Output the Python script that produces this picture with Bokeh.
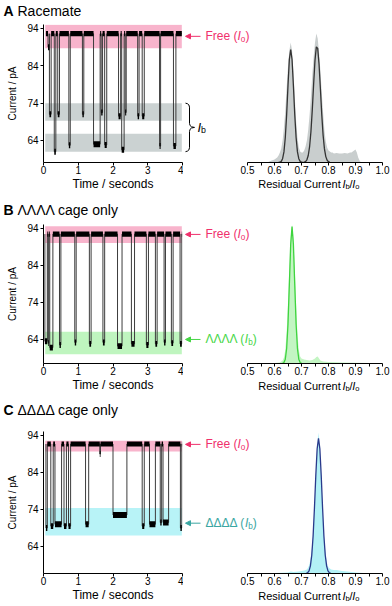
from bokeh.plotting import figure
from bokeh.models import (Range1d, Arrow, NormalHead, FixedTicker, NumeralTickFormatter)
from bokeh.layouts import column, row
from bokeh.embed import file_html
from bokeh.resources import INLINE
from bokeh.core.properties import value

FONT = "Liberation Sans"

# ---------------- data ----------------
time_ticks = [0, 1, 2, 3, 4]
current_ticks = [64, 74, 84, 94]
resid_ticks = [0.5, 0.6, 0.7, 0.8, 0.9, 1.0]
resid_minor = [0.55, 0.65, 0.75, 0.85, 0.95]

# Panel A: racemate trace (open level, events: start s, end s, level pA)
A_open = 92.6
A_span = [0.07, 3.98]
A_ev_start = [0.13, 0.17, 0.31, 0.41, 0.73, 1.12, 1.44, 1.66, 1.76, 2.16, 2.25, 2.35, 2.71, 2.84, 3.34, 3.74]
A_ev_end   = [0.17, 0.22, 0.355, 0.46, 0.77, 1.16, 1.63, 1.70, 1.82, 2.22, 2.32, 2.38, 2.75, 2.90, 3.37, 3.81]
A_ev_level = [89.0, 71.0, 61.0, 71.0, 62.7, 71.0, 63.0, 71.5, 62.8, 70.5, 61.5, 71.5, 70.5, 70.5, 62.5, 62.5]
A_band_lo = [88.7, 69.3, 61.0]
A_band_hi = [95.0, 74.0, 65.8]
A_band_col = ["#f8b4cc", "#cbd2d2", "#cbd2d2"]

# Panel B: ΛΛΛΛ cage only
B_open = 92.5
B_span = [0.04, 3.99]
B_ev_start = [0.04, 0.135, 0.18, 0.46, 0.90, 1.32, 1.71, 2.13, 2.53, 2.96, 3.22, 3.47, 3.68, 3.93]
B_ev_end   = [0.11, 0.155, 0.27, 0.50, 0.94, 1.37, 1.76, 2.26, 2.62, 3.02, 3.27, 3.51, 3.73, 3.98]
B_ev_level = [63.5, 63.0, 61.8, 62.5, 63.2, 62.8, 63.2, 62.2, 62.8, 62.5, 62.8, 63.2, 63.0, 62.8]
B_band_lo = [90.1, 60.0]
B_band_hi = [94.6, 66.1]
B_band_col = ["#f8b4cc", "#bff5bf"]

# Panel C: ΔΔΔΔ cage only
C_open = 91.7
C_span = [0.07, 3.99]
C_ev_start = [0.07, 0.21, 0.33, 0.59, 0.72, 1.21, 1.62, 2.00, 2.84, 3.05, 3.36, 3.44, 3.94]
C_ev_end   = [0.11, 0.28, 0.52, 0.66, 0.78, 1.30, 1.64, 2.40, 2.90, 3.22, 3.40, 3.60, 3.98]
C_ev_level = [69.0, 69.5, 70.0, 69.5, 69.5, 70.0, 89.0, 72.5, 69.5, 70.0, 70.5, 70.5, 69.0]
C_band_lo = [89.7, 67.0]
C_band_hi = [92.6, 74.4]
C_band_col = ["#f8b4cc", "#b8f3f7"]

band_t = [0.05, 3.98]

# Histograms of residual current Ib/Io (counts, arbitrary units)
A_hist_x = [0.575, 0.58, 0.585, 0.59, 0.595, 0.60, 0.605, 0.61, 0.615, 0.62,
            0.625, 0.63, 0.635, 0.64, 0.645, 0.65, 0.655, 0.66, 0.665, 0.67,
            0.675, 0.68, 0.685, 0.69, 0.695, 0.70, 0.705, 0.71, 0.715, 0.72,
            0.725, 0.73, 0.735, 0.74, 0.745, 0.75, 0.755, 0.76, 0.765, 0.77,
            0.775, 0.78, 0.785, 0.79, 0.795, 0.80, 0.805, 0.81, 0.815, 0.82,
            0.83, 0.84, 0.85, 0.86, 0.87, 0.88,
            0.885, 0.89, 0.895, 0.90, 0.905, 0.91, 0.915, 0.92]
A_hist_y = [0, 1, 1.5, 2, 2.5, 3, 4, 5, 7, 10,
            14, 22, 35, 52, 75, 96, 112, 120, 112, 92,
            66, 42, 25, 15, 11, 10, 10, 12, 16, 22,
            33, 48, 66, 88, 106, 120, 129, 124, 110, 92,
            70, 50, 32, 21, 15, 12, 11, 10, 10, 9,
            9.5, 9, 9, 9.5, 9, 10,
            10, 11, 12, 13, 10, 5, 2, 0]
A_fit_x = [0.615, 0.62, 0.625, 0.63, 0.635, 0.64, 0.645, 0.65, 0.655, 0.66,
           0.665, 0.67, 0.675, 0.68, 0.685, 0.69, 0.695, 0.70, 0.705, 0.71,
           0.715, 0.72, 0.725, 0.73, 0.735, 0.74, 0.745, 0.75, 0.755, 0.76,
           0.765, 0.77, 0.775, 0.78, 0.785, 0.79, 0.795, 0.80, 0.805]
A_fit_y = [0.05, 0.3, 1.1, 3.8, 10.6, 25, 48, 77, 103, 113,
           103, 77, 48, 25, 10.6, 3.8, 1.1, 0.3, 0.1, 0.3,
           0.9, 2.7, 7.0, 15.8, 31.0, 52.9, 78.8, 102.3, 115.7, 114.1,
           98.2, 73.7, 48.1, 27.4, 13.6, 5.9, 2.2, 0.8, 0.2]

B_hist_x = [0.60, 0.62, 0.63, 0.635, 0.64, 0.645, 0.65, 0.655, 0.66, 0.665,
            0.67, 0.675, 0.68, 0.685, 0.69, 0.695, 0.70, 0.71, 0.72, 0.73,
            0.74, 0.75, 0.755, 0.76, 0.765, 0.77, 0.78, 0.80, 0.85, 0.90,
            0.95, 0.97]
B_hist_y = [0.5, 1, 3, 6, 14, 32, 62, 98, 128, 141,
            128, 96, 60, 30, 14, 7, 5, 4, 3.5, 3,
            3.5, 5, 6.5, 7, 5, 3, 2, 1.5, 1, 0.8,
            0.5, 0]
B_fit_x = [0.63, 0.635, 0.64, 0.645, 0.65, 0.655, 0.66, 0.665,
           0.67, 0.675, 0.68, 0.685, 0.69, 0.695, 0.70]
B_fit_y = [0.15, 0.95, 4.4, 15.2, 40, 80, 121, 139,
           121, 80, 40, 15.2, 4.4, 0.95, 0.15]

C_hist_x = [0.60, 0.65, 0.66, 0.67, 0.69, 0.70, 0.71, 0.72, 0.725, 0.73,
            0.735, 0.74, 0.745, 0.75, 0.755, 0.76, 0.763, 0.765, 0.77, 0.775,
            0.78, 0.785, 0.79, 0.795, 0.80, 0.81, 0.82, 0.83, 0.84, 0.85,
            0.87, 0.90, 0.93, 0.95]
C_hist_y = [0.5, 1, 2, 1.5, 2, 2.5, 3, 4, 6, 10,
            18, 30, 50, 78, 108, 135, 143, 138, 115, 85,
            55, 32, 18, 10, 6, 4, 3.5, 3.5, 3, 2.5,
            2, 1, 0.5, 0]
C_fit_x = [0.718, 0.723, 0.728, 0.733, 0.738, 0.743, 0.748, 0.753, 0.758, 0.763,
           0.768, 0.773, 0.778, 0.783, 0.788, 0.793, 0.798, 0.803, 0.808]
C_fit_y = [0.21, 0.82, 2.7, 7.7, 18.5, 38.1, 66.7, 99.5, 126.5, 137,
           126.5, 99.5, 66.7, 38.1, 18.5, 7.7, 2.7, 0.82, 0.21]

# ---------------- helpers ----------------
EM = {' ': 0.278, '(': 0.333, ')': 0.333, '/': 0.278, 'A': 0.667, 'B': 0.667, 'C': 0.722,
      'F': 0.611, 'I': 0.278, 'R': 0.722, 'a': 0.556, 'b': 0.556, 'c': 0.5, 'd': 0.556,
      'e': 0.556, 'g': 0.556, 'i': 0.222, 'l': 0.222, 'm': 0.833, 'n': 0.556, 'o': 0.556,
      'r': 0.333, 's': 0.5, 't': 0.278, 'u': 0.556, 'y': 0.5, 'Λ': 0.667, 'Δ': 0.668}
EMB = {'A': 0.722, 'B': 0.722, 'C': 0.722}


def tw(s, size, bold=False):
    return size * sum((EMB[ch] if bold and ch in EMB else EM.get(ch, 0.556)) for ch in s)


def rich(fig, x, y, pieces, color, size, sub_dy, center=False, xr="default", yr="default"):
    """Draw a run of text pieces (n=normal, b=bold, i=italic, sub=subscript) as text glyphs."""
    sizes = [size * 0.68 if k == "sub" else size for _, k in pieces]
    ws = [tw(t, s, k == "b") for (t, k), s in zip(pieces, sizes)]
    if center:
        x -= sum(ws) / 2
    for (t, k), s, w in zip(pieces, sizes, ws):
        lead = len(t) - len(t.lstrip())
        fig.text(x=[x + tw(t[:lead], s)], y=[y - (sub_dy if k == "sub" else 0)],
                 text=[t.strip()], text_font=value(FONT), text_font_size=f"{s:.1f}px",
                 text_color=color, text_font_style={"b": "bold", "i": "italic"}.get(k, "normal"),
                 text_baseline="middle", text_align="left",
                 x_range_name=xr, y_range_name=yr)
        x += w


def trace_path(open_lvl, span, starts, ends, levels):
    xs, ys = [span[0]], [open_lvl]
    for s, e, l in zip(starts, ends, levels):
        xs += [s, s, e, e]
        ys += [open_lvl, l, l, open_lvl]
    xs.append(span[1])
    ys.append(open_lvl)
    return xs, ys


def style_axis(ax, label_size):
    ax.axis_line_color = "black"
    ax.axis_line_width = 1
    ax.major_tick_line_color = "black"
    ax.major_tick_out = 3
    ax.major_tick_in = 0
    ax.minor_tick_out = 0
    ax.minor_tick_in = 0
    ax.minor_tick_line_color = None
    ax.major_label_text_font = FONT
    ax.major_label_text_font_size = "10px"
    ax.major_label_text_color = "black"
    ax.axis_label_text_font = FONT
    ax.axis_label_text_font_style = "normal"
    ax.axis_label_text_font_size = label_size
    ax.axis_label_text_color = "black"


def strip(width, height, x0, x1):
    s = figure(width=width, height=height, x_range=Range1d(x0, x1), y_range=Range1d(0, height),
               min_border_left=0, min_border_right=0, min_border_top=0, min_border_bottom=0,
               toolbar_location=None, tools="", output_backend="svg",
               x_axis_location=None, y_axis_location=None)
    s.outline_line_color = None
    s.xgrid.visible = False
    s.ygrid.visible = False
    return s


W = 392
LW, LB, LR = 183, 43, 1          # left (trace) figure
RW, RR = W - LW, 10              # right (histogram) figure, frame starts at its left edge
HP0 = 64                         # px from right frame left to Ib/Io = 0.5
HPX = 135                        # px for 0.5 .. 1.0
RFW = RW - RR

panels = [
    dict(tH=20, tY=10, H=181, top=4, bot=39, S=24, sY=18, yr=(58.1, 95.07),
         title=[("A", "b"), (" Racemate", "n")],
         open=A_open, span=A_span, st=A_ev_start, en=A_ev_end, lv=A_ev_level,
         blo=A_band_lo, bhi=A_band_hi, bcol=A_band_col,
         hx=A_hist_x, hy=A_hist_y, fx=A_fit_x, fy=A_fit_y, hmax=138,
         hfill="#c9cece", fcol="#333333",
         free_y=91.9, bound=None, brace=True),
    dict(tH=19, tY=11, H=180, top=4, bot=37, S=22, sY=15, yr=(57.5, 95.08),
         title=[("B", "b"), (" ΛΛΛΛ cage only", "n")],
         open=B_open, span=B_span, st=B_ev_start, en=B_ev_end, lv=B_ev_level,
         blo=B_band_lo, bhi=B_band_hi, bcol=B_band_col,
         hx=B_hist_x, hy=B_hist_y, fx=B_fit_x, fy=B_fit_y, hmax=141,
         hfill="#c3f5c3", fcol="#3fd43f",
         free_y=92.4, bound=(64.0, "ΛΛΛΛ", "#46d646"), brace=False),
    dict(tH=23, tY=14, H=183, top=8, bot=33, S=18, sY=11, yr=(56.7, 95.08),
         title=[("C", "b"), (" ΔΔΔΔ cage only", "n")],
         open=C_open, span=C_span, st=C_ev_start, en=C_ev_end, lv=C_ev_level,
         blo=C_band_lo, bhi=C_band_hi, bcol=C_band_col,
         hx=C_hist_x, hy=C_hist_y, fx=C_fit_x, fy=C_fit_y, hmax=144,
         hfill="#b3f1f6", fcol="#2a3a8c",
         free_y=91.6, bound=(70.3, "ΔΔΔΔ", "#3aa6a2"), brace=False),
]

FREE = "#f0306c"
blocks = []
for cfg in panels:
    H, top, bot, S = cfg["H"], cfg["top"], cfg["bot"], cfg["S"]
    FH = H - top - bot
    ylo, yhi = cfg["yr"]
    ppu = FH / (yhi - ylo)

    # ---- title strip ----
    ts = strip(W, cfg["tH"], 0, W)
    rich(ts, 3, cfg["tY"], cfg["title"], "black", 14, 0)

    # ---- left: current trace ----
    pl = figure(width=LW, height=H, x_range=Range1d(0, 4), y_range=Range1d(ylo, yhi),
                min_border_left=LB, min_border_right=LR, min_border_top=top,
                min_border_bottom=bot, toolbar_location=None, tools="",
                output_backend="svg")
    pl.outline_line_color = None
    pl.xgrid.visible = False
    pl.ygrid.visible = False
    pl.quad(left=band_t[0], right=band_t[1], bottom=cfg["blo"], top=cfg["bhi"],
            fill_color=cfg["bcol"], line_color=None)
    xs, ys = trace_path(cfg["open"], cfg["span"], cfg["st"], cfg["en"], cfg["lv"])
    pl.line(xs, ys, line_color="#3c3c3c", line_width=1)
    ol = [cfg["span"][0]] + cfg["en"]
    orr = cfg["st"] + [cfg["span"][1]]
    pl.quad(left=ol, right=orr, bottom=cfg["open"] - 0.7, top=cfg["open"] + 0.7,
            fill_color="black", line_color=None)
    pl.quad(left=cfg["st"], right=cfg["en"], bottom=[l - 0.8 for l in cfg["lv"]],
            top=[l + 0.8 for l in cfg["lv"]], fill_color="black", line_color=None)

    pl.xaxis.ticker = FixedTicker(ticks=time_ticks)
    pl.yaxis.ticker = FixedTicker(ticks=current_ticks)
    style_axis(pl.xaxis[0], "12px")
    style_axis(pl.yaxis[0], "10px")
    pl.xaxis.axis_label = "Time / seconds"
    pl.yaxis.axis_label = "Current / pA"
    pl.xaxis.major_label_standoff = 0
    pl.xaxis.axis_label_standoff = 0
    pl.yaxis.major_label_standoff = 2
    pl.yaxis.axis_label_standoff = 6

    # ---- right: histogram (frame also holds the connecting labels) ----
    x0 = 0.5 - HP0 * 0.5 / HPX
    x1 = x0 + RFW * 0.5 / HPX
    pr = figure(width=RW, height=H - S, x_range=Range1d(x0, x1), y_range=Range1d(0, cfg["hmax"]),
                min_border_left=0, min_border_right=RR, min_border_top=top,
                min_border_bottom=15, toolbar_location=None, tools="",
                output_backend="svg", y_axis_location=None,
                extra_x_ranges={"px": Range1d(-HP0, RFW - HP0)},
                extra_y_ranges={"cur": Range1d(ylo, yhi)})
    pr.outline_line_color = None
    pr.xgrid.visible = False
    pr.ygrid.visible = False
    pr.varea(x=cfg["hx"], y1=0, y2=cfg["hy"], fill_color=cfg["hfill"])
    pr.line(cfg["fx"], cfg["fy"], line_color=cfg["fcol"], line_width=1.3)
    pr.xaxis.ticker = FixedTicker(ticks=resid_ticks, minor_ticks=resid_minor)
    pr.xaxis.formatter = NumeralTickFormatter(format="0.0")
    pr.xaxis.bounds = (0.5, 1.0)
    style_axis(pr.xaxis[0], "11px")
    pr.xaxis.minor_tick_out = 3
    pr.xaxis.minor_tick_line_color = "black"
    pr.xaxis.major_label_standoff = 0

    # arrows & labels between the two plots
    sub = 3 / ppu
    pr.add_layout(Arrow(end=NormalHead(size=5, fill_color=FREE, line_color=FREE),
                        x_start=-47, y_start=cfg["free_y"], x_end=-62, y_end=cfg["free_y"],
                        x_range_name="px", y_range_name="cur", line_color=FREE, line_width=1))
    rich(pr, -42, cfg["free_y"], [("Free (", "n"), ("I", "i"), ("o", "sub"), (")", "n")],
         FREE, 12, sub, xr="px", yr="cur")
    if cfg["bound"] is not None:
        by, sym, col = cfg["bound"]
        pr.add_layout(Arrow(end=NormalHead(size=5, fill_color=col, line_color=col),
                            x_start=-47, y_start=by, x_end=-62, y_end=by,
                            x_range_name="px", y_range_name="cur", line_color=col, line_width=1))
        rich(pr, -42, by, [(sym + " (", "n"), ("I", "i"), ("b", "sub"), (")", "n")],
             col, 12, sub, xr="px", yr="cur")
    if cfg["brace"]:
        btop, bbot = cfg["bhi"][1], cfg["blo"][2]
        h = (btop - bbot) * ppu
        up = [(0, 0), (2, 0.6), (3.4, 1.8), (4, 4), (4, h / 2 - 4), (4.6, h / 2 - 1.8),
              (6, h / 2 - 0.6), (9, h / 2)]
        pts = up + [(dx, h - dy) for dx, dy in reversed(up[:-1])]
        pr.line([-62 + dx for dx, _ in pts], [btop - dy / ppu for _, dy in pts],
                line_color="black", line_width=1, x_range_name="px", y_range_name="cur")
        rich(pr, -50, (btop + bbot) / 2, [("I", "i"), ("b", "sub")], "black", 13, sub,
             xr="px", yr="cur")

    # ---- strip with the histogram axis title ----
    ls = strip(RW, S, -HP0, RW - HP0)
    rich(ls, HPX / 2, cfg["sY"],
         [("Residual Current  ", "n"), ("I", "i"), ("b", "sub"), ("/", "n"), ("I", "i"), ("o", "sub")],
         "black", 11, 3, center=True)

    blocks.append(column(ts, row(pl, column(pr, ls))))

layout = column(*blocks)
open("out.html", "w").write(file_html(layout, INLINE))
